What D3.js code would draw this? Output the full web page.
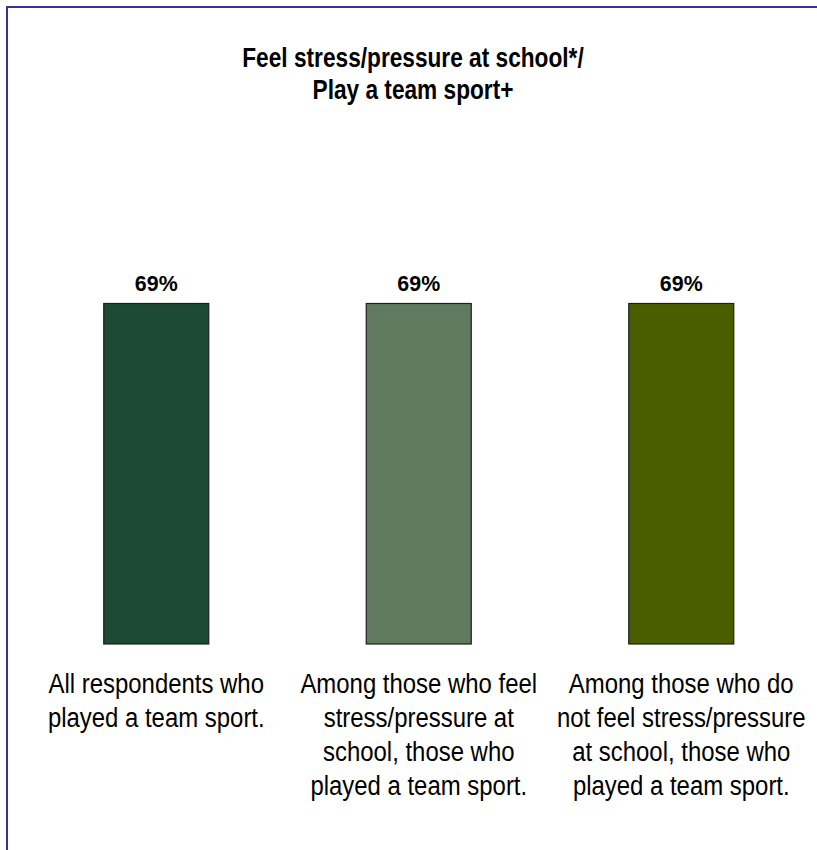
<!DOCTYPE html>
<html>
<head>
<meta charset="utf-8">
<script src="https://cdn.jsdelivr.net/npm/d3@7/dist/d3.min.js"></script>
<style>
  html, body { margin: 0; padding: 0; background: #fff; }
  svg { display: block; }
  text { font-family: "Liberation Sans", Arial, Helvetica, sans-serif; fill: #000; }
</style>
</head>
<body>
<svg id="chart" width="817" height="850"></svg>
<script>
const titleLines = ["Feel stress/pressure at school*/", "Play a team sport+"];
const categories = ["all", "stress", "nostress"];
const categoryLabels = [
  ["All respondents who", "played a team sport."],
  ["Among those who feel", "stress/pressure at", "school, those who", "played a team sport."],
  ["Among those who do", "not feel stress/pressure", "at school, those who", "played a team sport."]
];
const values = [69, 69, 69];
const valueLabels = ["69%", "69%", "69%"];
const barColors = ["#1b4931", "#607a60", "#4a5e00"];

const svg = d3.select("#chart");

// frame
svg.append("rect")
  .attr("x", 7).attr("y", 7)
  .attr("width", 830).attr("height", 870)
  .attr("fill", "none")
  .attr("stroke", "#333399")
  .attr("stroke-width", 2);

const x = d3.scaleBand()
  .domain(categories)
  .range([25, 812.5])
  .paddingInner(0.6)
  .paddingOuter(0.3);

const y = d3.scaleLinear()
  .domain([0, 100])
  .range([644, 150.5]);

// condensed text helper (reference uses a narrow face)
function narrowGroup(parent, cx, ratio) {
  return parent.append("g").attr("transform", `translate(${cx},0) scale(${ratio},1)`);
}

// title
narrowGroup(svg, 413, 0.84)
  .append("text")
  .attr("x", 0).attr("y", 67)
  .attr("text-anchor", "middle")
  .attr("font-size", 27)
  .attr("font-weight", "bold")
  .selectAll("tspan")
  .data(titleLines)
  .join("tspan")
  .attr("x", 0)
  .attr("dy", (d, i) => i === 0 ? 0 : 32)
  .text(d => d);

// bars
svg.append("g")
  .selectAll("rect")
  .data(values)
  .join("rect")
  .attr("x", (d, i) => x(categories[i]))
  .attr("y", d => y(d))
  .attr("width", x.bandwidth())
  .attr("height", d => y(0) - y(d))
  .attr("fill", (d, i) => barColors[i])
  .attr("stroke", "#1e1e1e")
  .attr("stroke-width", 1.2);

// value labels
values.forEach((v, i) => {
  narrowGroup(svg, x(categories[i]) + x.bandwidth() / 2, 0.93)
    .append("text")
    .attr("x", 0)
    .attr("y", y(v) - 12)
    .attr("text-anchor", "middle")
    .attr("font-size", 23)
    .attr("font-weight", "bold")
    .text(valueLabels[i]);
});

// category labels
categoryLabels.forEach((lines, i) => {
  narrowGroup(svg, x(categories[i]) + x.bandwidth() / 2, 0.855)
    .append("text")
    .attr("x", 0).attr("y", 693)
    .attr("text-anchor", "middle")
    .attr("font-size", 28)
    .selectAll("tspan")
    .data(lines)
    .join("tspan")
    .attr("x", 0)
    .attr("dy", (d, j) => j === 0 ? 0 : 34)
    .text(d => d);
});
</script>
</body>
</html>
